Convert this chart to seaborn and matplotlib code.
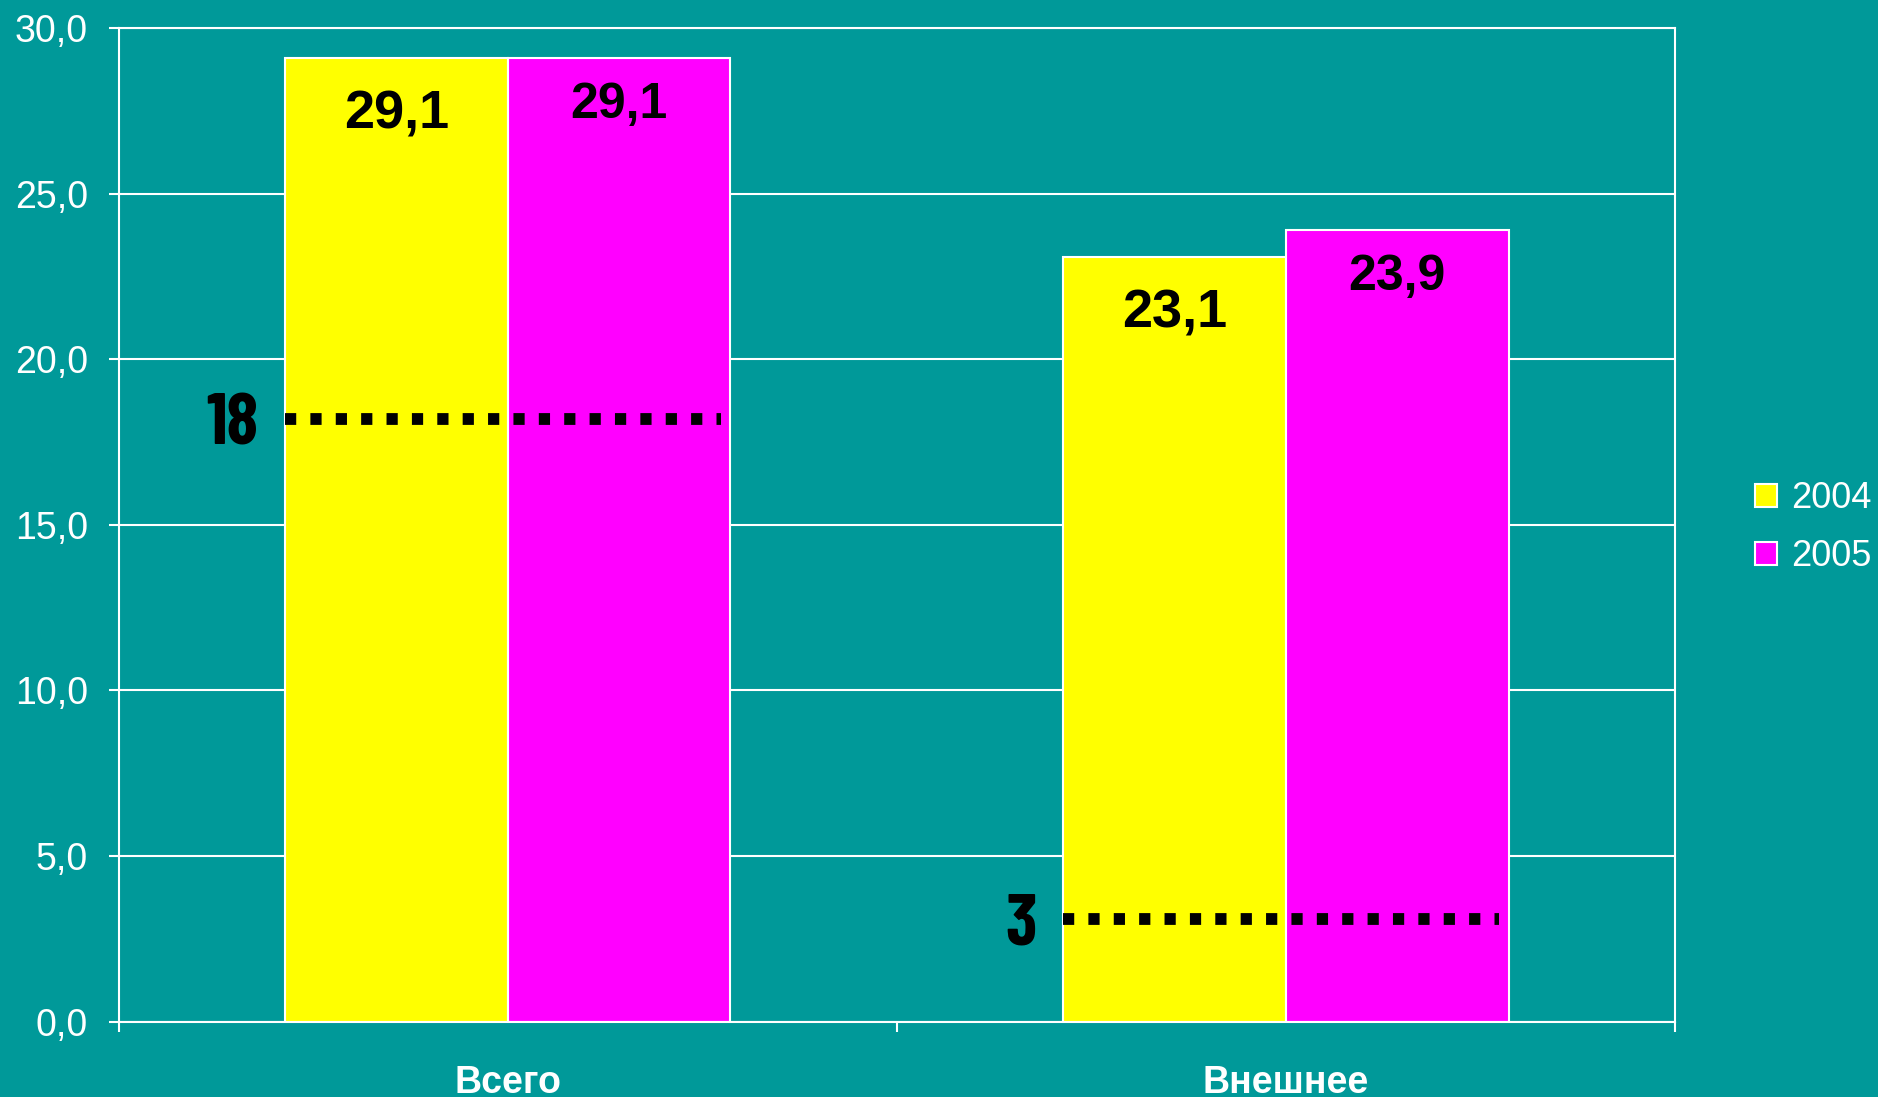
import pandas as pd
import matplotlib
matplotlib.use('Agg')
import matplotlib.pyplot as plt
from matplotlib.ticker import FuncFormatter
import seaborn as sns

# data
categories = ['Всего', 'Внешнее']
years = ['2004', '2005']
values_2004 = [29.1, 23.1]
values_2005 = [29.1, 23.9]
norm_labels = ['18', '3']
norm_levels = [18.2, 3.1]
y_ticks = [0, 5, 10, 15, 20, 25, 30]

bg = '#009999'
colors = ['#FFFF00', '#FF00FF']

df = pd.DataFrame({
    'cat': categories * 2,
    'year': [years[0]] * len(categories) + [years[1]] * len(categories),
    'value': values_2004 + values_2005,
})

sns.set_style('white', {'axes.facecolor': bg, 'figure.facecolor': bg})
plt.rcParams['font.family'] = ['Liberation Sans', 'DejaVu Sans']

fig = plt.figure(figsize=(18.78, 10.97), dpi=100)
ax = fig.add_axes([0.0632, 0.0687, 0.8288, 0.9058])

sns.barplot(data=df, x='cat', y='value', hue='year', palette=colors,
            width=0.572, edgecolor='white', linewidth=1.5, saturation=1,
            errorbar=None, ax=ax)

ax.set_xlim(-0.5, 1.5)
ax.set_ylim(0, 30)
ax.set_xlabel('')
ax.set_ylabel('')

#Value labels inside the bars
label_offsets = [-41, -34]
label_sizes = [39, 36]
for k, cont in enumerate(ax.containers):
    for bar in cont:
        h = bar.get_height()
        ax.annotate(f'{h:.1f}'.replace('.', ','),
                    (bar.get_x() + bar.get_width() / 2, h),
                    xytext=(0, label_offsets[k]), textcoords='offset points',
                    ha='center', va='center', fontsize=label_sizes[k],
                    fontweight='bold', color='black')

#Dotted norm lines
for i, (lvl, lab) in enumerate(zip(norm_levels, norm_labels)):
    bars = [c.patches[i] for c in ax.containers]
    x0 = bars[0].get_x()
    x1 = bars[-1].get_x() + bars[-1].get_width() - 0.012
    ax.plot([x0, x1], [lvl, lvl], color='black', lw=8.5,
            dashes=(0.95, 1.2), dash_capstyle='butt')
    ax.annotate(lab, (x0, lvl), xytext=(-19, 0), textcoords='offset points',
                ha='right', va='center_baseline', fontsize=52, fontweight='bold',
                color='black', family=['Barlow Condensed', 'Liberation Sans'])

#Axes styling
ax.set_yticks(y_ticks)
ax.yaxis.set_major_formatter(FuncFormatter(lambda v, _: f'{v:.1f}'.replace('.', ',')))
ax.tick_params(axis='y', colors='white', labelsize=27, length=7, width=1.5,
               direction='out', pad=15, left=True)
ax.set_xticks([0, 1])
ax.set_xticklabels(categories, fontsize=27, fontweight='bold', color='white')
ax.set_xticks([-0.5, 0.5, 1.5], minor=True)
ax.tick_params(axis='x', which='major', length=0, pad=31)
ax.tick_params(axis='x', which='minor', length=7, width=1.5, color='white',
               direction='out', bottom=True)

ax.yaxis.grid(True, color='white', lw=1.5)
ax.set_axisbelow(True)
for s in ax.spines.values():
    s.set_visible(True)
    s.set_color('white')
    s.set_linewidth(1.5)

#Legend at the right
handles, labels = ax.get_legend_handles_labels()
ax.get_legend().remove()
fig.legend(handles, labels, loc='center left', bbox_to_anchor=(0.9345, 0.519),
           frameon=False, fontsize=26, handlelength=0.6, handleheight=0.6,
           handletextpad=0.4, labelspacing=0.62, borderpad=0, borderaxespad=0,
           labelcolor='white')

fig.savefig('out.png', dpi=100, facecolor=bg)
